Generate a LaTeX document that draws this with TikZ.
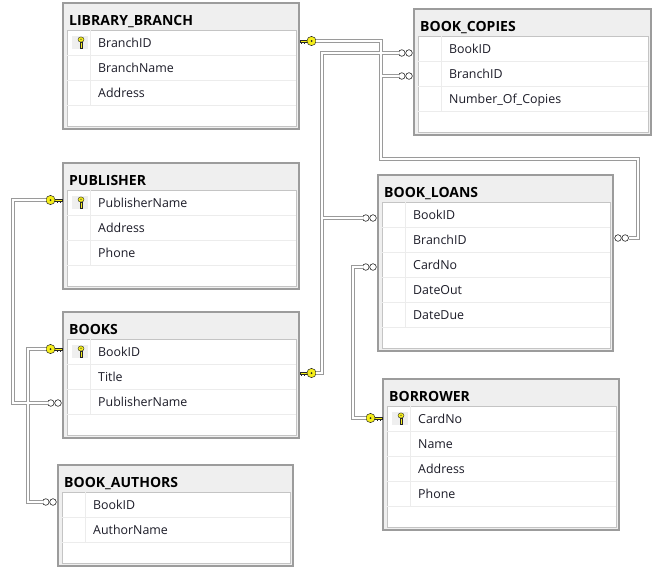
\documentclass[tikz,border=0pt]{standalone}
\usepackage{fontspec}
\setmainfont{Open Sans}
\usetikzlibrary{calc}
\definecolor{bordergray}{HTML}{9C9C9C}
\definecolor{titlefill}{HTML}{EFEFEF}
\definecolor{panelborder}{HTML}{C4C4C4}
\definecolor{sepgray}{HTML}{ECECEC}
\definecolor{keyyellow}{HTML}{F5EE1A}
\definecolor{relgray}{HTML}{9A9A9A}
\definecolor{fieldcol}{HTML}{1C1C28}
\tikzset{
  tablebox/.style={draw=bordergray, fill=titlefill, line width=1.2pt, inner sep=0pt, outer sep=0pt, rectangle},
  titletext/.style={font=\fontsize{14}{16}\selectfont\bfseries, text=black, inner sep=0pt, anchor=base west},
  fieldtext/.style={font=\fontsize{12.4}{14}\selectfont, text=fieldcol, inner sep=0pt, anchor=base west},
  keypart/.style={fill=keyyellow, draw=black!85, line width=0.4pt},
  manypart/.style={fill=white, draw=black!85, line width=0.6pt},
  relout/.style={draw=relgray, line width=3.4pt},
  relin/.style={draw=white, line width=1.4pt},
}
% #1 name, #2 x, #3 y, #4 width, #5 rows, #6 title, #7 key row, #8 fields
\newcommand\dbtable[8]{%
  \pgfmathsetmacro\tblH{27+25*#5+24}
  \node[tablebox, minimum width=#4, minimum height=\tblH, anchor=north west] (#1) at (#2,#3) {};
  \filldraw[fill=white, draw=panelborder, line width=0.8pt] (#2+4,#3+27) rectangle (#2+#4-3,#3+\tblH-3);
  \draw[sepgray, line width=0.8pt] (#2+27,#3+27) -- (#2+27,#3+27+25*#5);
  \node[titletext] (#1-title) at (#2+6,#3+22.5) {#6};
  \foreach \f [count=\i] in {#8} {
    \draw[sepgray, line width=0.8pt] (#2+4,#3+27+25*\i) -- (#2+#4-3,#3+27+25*\i);
    \node[fieldtext] (#1-\i) at (#2+35,#3+19+25*\i) {\f};
  }
  \ifnum#7>0
    \fill[titlefill] (#2+9,#3+8+25*#7) rectangle (#2+25,#3+21+25*#7);
    \begin{scope}[shift={(#2+18,#3+14.5+25*#7)}]
      \filldraw[keypart] (-1,-0.5) rectangle (1,5.5);
      \fill[black!85] (1,2.4) rectangle (2.4,3.4);
      \fill[black!85] (1,4.3) rectangle (2.4,5.3);
      \filldraw[keypart] (0,-3) ellipse [x radius=3, y radius=2.6];
      \fill[black!85] (0,-3.3) circle [radius=0.7];
    \end{scope}
  \fi
}
% key end: #1 name, #2 anchor point, #3 y, #4 direction
\newcommand\keyend[4]{%
  \begin{scope}[shift={(#2 |- 0,#3)}, xscale=#4]
    \filldraw[keypart] (1,-1.3) rectangle (8.5,1.3);
    \fill[black!85] (2,1.3) rectangle (3.4,3);
    \fill[black!85] (4.6,1.3) rectangle (6,3);
    \filldraw[keypart, line width=0.5pt] (12.5,0) circle [radius=4.6];
    \fill[black!85] (12.5,0) circle [radius=1];
    \coordinate (#1) at (17,0);
  \end{scope}
}
\newcommand\manyend[4]{%
  \begin{scope}[shift={(#2 |- 0,#3)}, xscale=#4]
    \filldraw[manypart] (5,0) circle [radius=3.3];
    \filldraw[manypart] (12.2,0) circle [radius=3.3];
    \coordinate (#1) at (15.5,0);
  \end{scope}
}
\newcommand\relpaths[1]{%
  \draw[#1] (kLB) -| (381,159) -| (638,238) -- (mBLbr);
  \draw[#1] (kLB) -| (381,76) -- (mBCbr);
  \draw[#1] (kBKr) -| (322,53) -- (mBCbk);
  \draw[#1] (kBKr) -| (322,218) -- (mBLbk);
  \draw[#1] (kBOR) -| (353,267) -- (mBLcn);
  \draw[#1] (kPUB) -| (13,403) -- (mBKpn);
  \draw[#1] (kBKl) -| (28,502) -- (mBA);
}
\begin{document}
\begin{tikzpicture}[x=1pt, y=-1pt]
\useasboundingbox (0,0) rectangle (660,582);
\fill[white] (0,0) rectangle (660,582);

\dbtable{LB}{63}{3}{236}{3}{LIBRARY\_BRANCH}{1}{BranchID,BranchName,Address}
\dbtable{BC}{414}{9}{237}{3}{BOOK\_COPIES}{0}{BookID,BranchID,Number\_Of\_Copies}
\dbtable{PUB}{63}{163}{236}{3}{PUBLISHER}{1}{PublisherName,Address,Phone}
\dbtable{BK}{63}{312}{236}{3}{BOOKS}{1}{BookID,Title,PublisherName}
\dbtable{BA}{58}{465}{235}{2}{BOOK\_AUTHORS}{0}{BookID,AuthorName}
\dbtable{BL}{378}{175}{235}{5}{BOOK\_LOANS}{0}{BookID,BranchID,CardNo,DateOut,DateDue}
\dbtable{BOR}{383}{379}{236}{4}{BORROWER}{1}{CardNo,Name,Address,Phone}

\keyend{kLB}{LB.east}{41}{1}
\keyend{kBKr}{BK.east}{373}{1}
\keyend{kBOR}{BOR.west}{418}{-1}
\keyend{kPUB}{PUB.west}{200}{-1}
\keyend{kBKl}{BK.west}{349}{-1}
\manyend{mBLbr}{BL.east}{238}{1}
\manyend{mBCbr}{BC.west}{76}{-1}
\manyend{mBCbk}{BC.west}{53}{-1}
\manyend{mBLbk}{BL.west}{218}{-1}
\manyend{mBLcn}{BL.west}{267}{-1}
\manyend{mBKpn}{BK.west}{403}{-1}
\manyend{mBA}{BA.west}{502}{-1}

\relpaths{relout}
\relpaths{relin}
\end{tikzpicture}
\end{document}
